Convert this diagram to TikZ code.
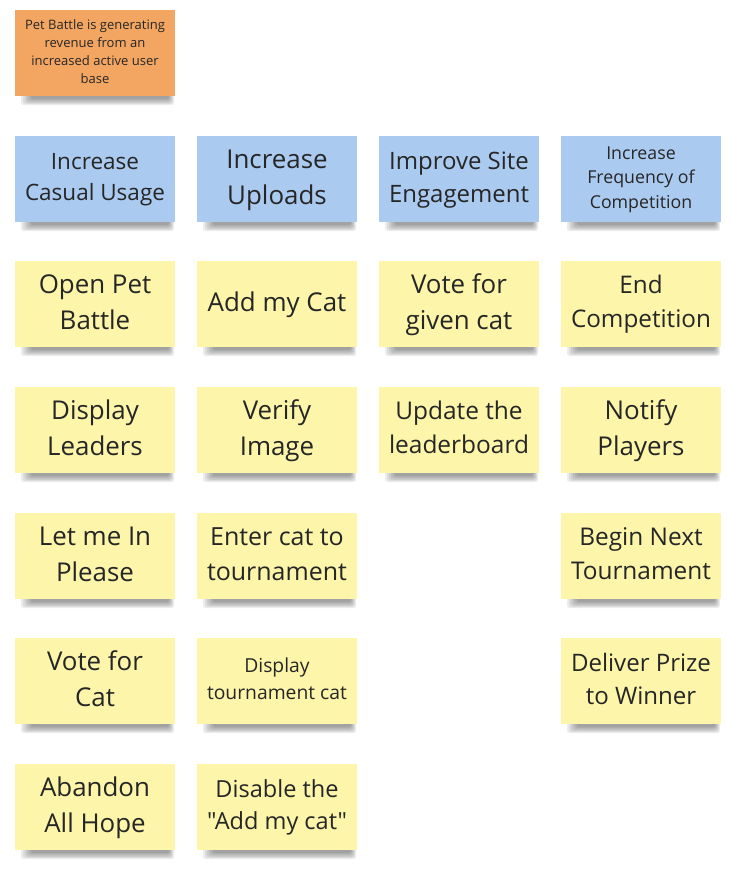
\documentclass[tikz,border=0pt]{standalone}
\usepackage{fontspec}
\setmainfont{Open Sans}
\newfontfamily\notefont{Open Sans}
\usepackage{graphicx}
\usetikzlibrary{calc,backgrounds}
\definecolor{orangenote}{HTML}{F3A662}
\definecolor{bluenote}{HTML}{AACAF0}
\definecolor{yellownote}{HTML}{FCF5AA}
\definecolor{notetext}{HTML}{262626}
\newsavebox\notebox
\newlength\nbw \newlength\nbh
\newcommand\fitnote[1]{%
  \sbox\notebox{\notefont\fontsize{26}{36}\selectfont\begin{tabular}{@{}c@{}}#1\end{tabular}}%
  \setlength\nbw{\wd\notebox}%
  \setlength\nbh{\ht\notebox}\addtolength\nbh{\dp\notebox}%
  \pgfmathsetmacro\notescale{min(1,140.5/\nbw,74/\nbh)}%
  \raisebox{1.2bp}{\scalebox{\notescale}{\usebox\notebox}}}
\tikzset{
  note/.style={minimum width=160bp, minimum height=86bp, inner sep=0pt, text=notetext},
  goal/.style={note, fill=orangenote},
  epic/.style={note, fill=bluenote},
  task/.style={note, fill=yellownote},
}
\begin{document}
\begin{tikzpicture}[x=1bp,y=-1bp]
\useasboundingbox (0,0) rectangle (730,886);
% goal
\node[goal] (g) at (95,53) {\fitnote{Pet Battle is generating\\revenue from an\\increased active user\\base}};
% epics
\node[epic] (e1) at (95,179) {\fitnote{Increase\\Casual Usage}};
\node[epic] (e2) at (277,179) {\fitnote{Increase\\Uploads}};
\node[epic] (e3) at (459,179) {\fitnote{Improve Site\\Engagement}};
\node[epic] (e4) at (641,179) {\fitnote{Increase\\Frequency of\\Competition}};
% column 1
\node[task] (a1) at (95,304) {\fitnote{Open Pet\\Battle}};
\node[task] (a2) at (95,430) {\fitnote{Display\\Leaders}};
\node[task] (a3) at (95,556) {\fitnote{Let me In\\Please}};
\node[task] (a4) at (95,681) {\fitnote{Vote for\\Cat}};
\node[task] (a5) at (95,807) {\fitnote{Abandon\\All Hope}};
% column 2
\node[task] (b1) at (277,304) {\fitnote{Add my Cat}};
\node[task] (b2) at (277,430) {\fitnote{Verify\\Image}};
\node[task] (b3) at (277,556) {\fitnote{Enter cat to\\tournament}};
\node[task] (b4) at (277,681) {\fitnote{Display\\tournament cat}};
\node[task] (b5) at (277,807) {\fitnote{Disable the\\"Add my cat"}};
% column 3
\node[task] (c1) at (459,304) {\fitnote{Vote for\\given cat}};
\node[task] (c2) at (459,430) {\fitnote{Update the\\leaderboard}};
% column 4
\node[task] (d1) at (641,304) {\fitnote{End\\Competition}};
\node[task] (d2) at (641,430) {\fitnote{Notify\\Players}};
\node[task] (d3) at (641,556) {\fitnote{Begin Next\\Tournament}};
\node[task] (d4) at (641,681) {\fitnote{Deliver Prize\\to Winner}};
% white page and shadows
\begin{pgfonlayer}{background}
\fill[white] (0,0) rectangle (730,886);
\foreach \n in {g,e1,e2,e3,e4,a1,a2,a3,a4,a5,b1,b2,b3,b4,b5,c1,c2,d1,d2,d3,d4}{
  \foreach \i in {0,...,5}{
    \fill[black,opacity=0.07,rounded corners=3bp]
      ($(\n.south west)+(6+2*\i,-6)$) rectangle ($(\n.south east)+(-1-\i,9-1.2*\i)$);
  }
}
\end{pgfonlayer}
\end{tikzpicture}
\end{document}
